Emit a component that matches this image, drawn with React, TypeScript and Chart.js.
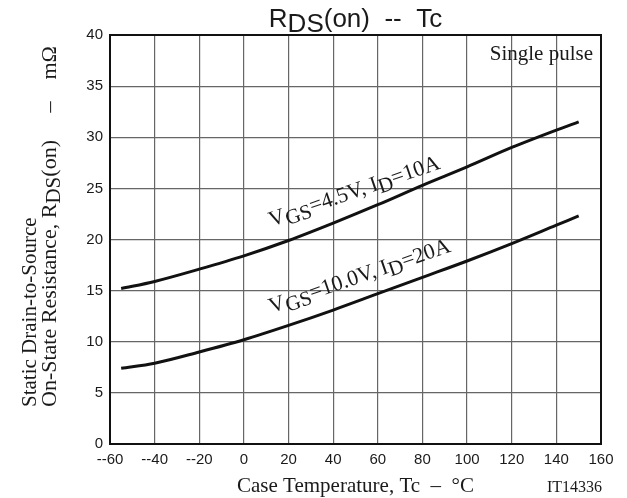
import React, { useEffect, useRef } from "react";
import { Chart, registerables } from "chart.js";

Chart.register(...registerables);

// ---- data ----
const temps = [-55, -40, -20, 0, 20, 40, 60, 80, 100, 120, 140, 150];
const rdsVgs45 = [15.2, 15.9, 17.1, 18.4, 19.9, 21.6, 23.4, 25.3, 27.1, 29.0, 30.7, 31.5];
const rdsVgs10 = [7.4, 7.9, 9.0, 10.2, 11.6, 13.1, 14.7, 16.3, 17.9, 19.6, 21.4, 22.3];
const xTickValues = [-60, -40, -20, 0, 20, 40, 60, 80, 100, 120, 140, 160];
const yTickValues = [0, 5, 10, 15, 20, 25, 30, 35, 40];

type Run = { t: string; sub?: boolean };
const titleRuns: Run[] = [{ t: "R" }, { t: "DS", sub: true }, { t: "(on)  --  Tc" }];
const yTitle1: Run[] = [{ t: "Static Drain-to-Source" }];
const yTitle2: Run[] = [
  { t: "On-State Resistance, R" },
  { t: "DS", sub: true },
  { t: "(on)     \u2013    m\u03A9" },
];
const xTitleRuns: Run[] = [{ t: "Case Temperature, Tc  \u2013  \u00B0C" }];
const label45: Run[] = [{ t: "V" }, { t: "GS", sub: true }, { t: "=4.5V, I" }, { t: "D", sub: true }, { t: "=10A" }];
const label10: Run[] = [{ t: "V" }, { t: "GS", sub: true }, { t: "=10.0V, I" }, { t: "D", sub: true }, { t: "=20A" }];
const label45Anchor = [12.4, 21.25];
const label10Anchor = [12.4, 12.78];

const SERIF = "'Liberation Serif', 'Times New Roman', serif";
const SANS = "'Liberation Sans', Arial, sans-serif";

function runsWidth(ctx: CanvasRenderingContext2D, runs: Run[], font: string, subFont: string) {
  let w = 0;
  for (const r of runs) {
    ctx.font = r.sub ? subFont : font;
    w += ctx.measureText(r.t).width;
  }
  return w;
}

function drawRuns(
  ctx: CanvasRenderingContext2D,
  runs: Run[],
  x: number,
  y: number,
  font: string,
  subFont: string,
  subDy: number,
  align: "left" | "center" | "right" = "left",
  angle = 0
) {
  ctx.save();
  ctx.translate(x, y);
  ctx.rotate(angle);
  ctx.textBaseline = "alphabetic";
  ctx.textAlign = "left";
  const total = runsWidth(ctx, runs, font, subFont);
  let cx = align === "left" ? 0 : align === "center" ? -total / 2 : -total;
  for (const r of runs) {
    ctx.font = r.sub ? subFont : font;
    ctx.fillText(r.t, cx, r.sub ? subDy : 0);
    cx += ctx.measureText(r.t).width;
  }
  ctx.restore();
}

const textPlugin = {
  id: "texts",
  afterDraw(chart: any) {
    const ctx: CanvasRenderingContext2D = chart.ctx;
    const { left, right, top } = chart.chartArea;
    const xs = chart.scales.x;
    const ys = chart.scales.y;
    const cx = (left + right) / 2;
    ctx.save();
    ctx.fillStyle = "#1a1a1a";
    // title
    drawRuns(ctx, titleRuns, cx, 27, `26px ${SANS}`, `26px ${SANS}`, 5, "center");
    // y axis titles
    drawRuns(ctx, yTitle1, 36, 407, `21px ${SERIF}`, `21px ${SERIF}`, 4, "left", -Math.PI / 2);
    drawRuns(ctx, yTitle2, 56, 407, `22px ${SERIF}`, `21px ${SERIF}`, 4, "left", -Math.PI / 2);
    // x axis title
    drawRuns(ctx, xTitleRuns, cx, 492, `21px ${SERIF}`, `21px ${SERIF}`, 4, "center");
    ctx.font = `16px ${SERIF}`;
    ctx.textAlign = "right";
    ctx.fillText("IT14336", 602, 492);
    // single pulse
    ctx.font = `21px ${SERIF}`;
    ctx.textAlign = "right";
    ctx.fillText("Single pulse", right - 8, top + 25);
    // curve labels
    const ang = (-19 * Math.PI) / 180;
    drawRuns(
      ctx,
      label45,
      xs.getPixelForValue(label45Anchor[0]),
      ys.getPixelForValue(label45Anchor[1]),
      `22px ${SERIF}`,
      `21px ${SERIF}`,
      4,
      "left",
      ang
    );
    drawRuns(
      ctx,
      label10,
      xs.getPixelForValue(label10Anchor[0]),
      ys.getPixelForValue(label10Anchor[1]),
      `22px ${SERIF}`,
      `21px ${SERIF}`,
      4,
      "left",
      ang
    );
    ctx.restore();
  },
};

const fmtTick = (v: number) => (v < 0 ? "--" + Math.abs(v) : String(v));

export default function App() {
  const ref = useRef<HTMLCanvasElement | null>(null);
  useEffect(() => {
    if (!ref.current) return;
    const chart = new Chart(ref.current, {
      type: "line",
      data: {
        datasets: [
          {
            data: temps.map((t, i) => ({ x: t, y: rdsVgs45[i] })),
            borderColor: "#111",
            borderWidth: 3,
            pointRadius: 0,
            tension: 0.4,
            cubicInterpolationMode: "monotone",
          },
          {
            data: temps.map((t, i) => ({ x: t, y: rdsVgs10[i] })),
            borderColor: "#111",
            borderWidth: 3,
            pointRadius: 0,
            tension: 0.4,
            cubicInterpolationMode: "monotone",
          },
        ],
      },
      options: {
        responsive: false,
        animation: false,
        devicePixelRatio: 1,
        layout: { padding: { left: 0, top: 35, right: 26, bottom: 0 } },
        plugins: { legend: { display: false }, tooltip: { enabled: false }, title: { display: false } },
        scales: {
          x: {
            type: "linear",
            min: -60,
            max: 160,
            afterFit: (s: any) => {
              s.height = 54;
            },
            afterBuildTicks: (s: any) => {
              s.ticks = xTickValues.map((v) => ({ value: v }));
            },
            ticks: {
              callback: (v: any) => fmtTick(Number(v)),
              font: { family: SANS, size: 15 },
              color: "#1a1a1a",
              padding: 7,
              maxRotation: 0,
              autoSkip: false,
            },
            grid: { color: "#666", lineWidth: 1.2, drawTicks: false },
            border: { display: true, color: "#111", width: 2 },
          },
          y: {
            type: "linear",
            min: 0,
            max: 40,
            afterFit: (s: any) => {
              s.width = 110;
            },
            afterBuildTicks: (s: any) => {
              s.ticks = yTickValues.map((v) => ({ value: v }));
            },
            ticks: {
              font: { family: SANS, size: 15 },
              color: "#1a1a1a",
              padding: 7,
              autoSkip: false,
            },
            grid: { color: "#666", lineWidth: 1.2, drawTicks: false },
            border: { display: true, color: "#111", width: 2 },
          },
          x2: {
            type: "linear",
            position: "top",
            min: -60,
            max: 160,
            display: true,
            afterFit: (s: any) => {
              s.height = 0;
            },
            ticks: { display: false },
            grid: { display: false, drawTicks: false },
            border: { display: true, color: "#111", width: 2 },
          },
          y2: {
            type: "linear",
            position: "right",
            min: 0,
            max: 40,
            display: true,
            afterFit: (s: any) => {
              s.width = 0;
            },
            ticks: { display: false },
            grid: { display: false, drawTicks: false },
            border: { display: true, color: "#111", width: 2 },
          },
        },
      } as any,
      plugins: [textPlugin],
    });
    return () => chart.destroy();
  }, []);
  return (
    <div style={{ position: "fixed", left: 0, top: 0, width: 627, height: 498, background: "#fff" }}>
      <canvas ref={ref} width={627} height={498} />
    </div>
  );
}
